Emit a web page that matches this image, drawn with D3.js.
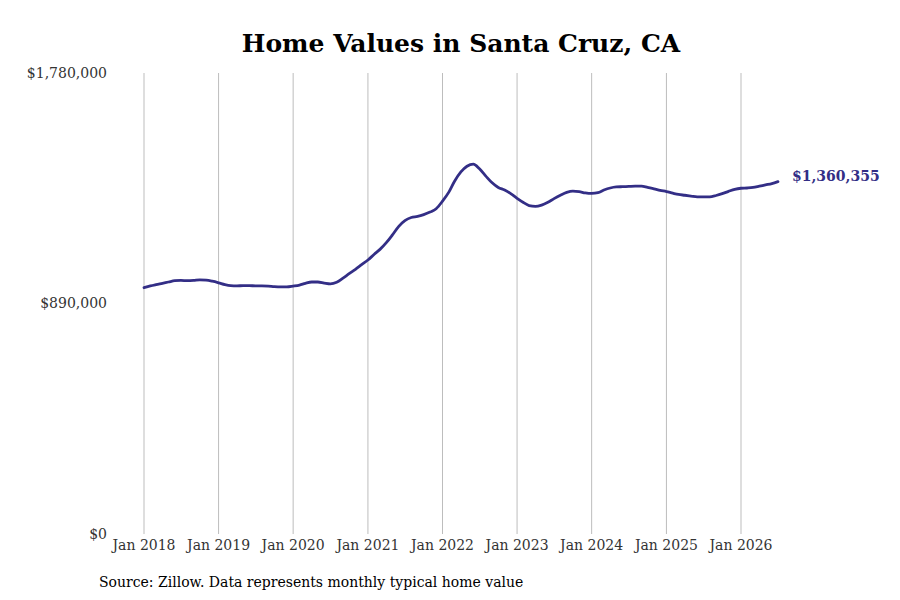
<!DOCTYPE html>
<html>
<head>
<meta charset="utf-8">
<script src="https://cdn.jsdelivr.net/npm/d3@7"></script>
<style>
  html, body { margin: 0; padding: 0; background: #fff; }
  svg { display: block; }
  text { font-family: "DejaVu Serif", serif; }
</style>
</head>
<body>
<svg id="chart" width="900" height="600"></svg>
<script>
const title = "Home Values in Santa Cruz, CA";
const sourceNote = "Source: Zillow. Data represents monthly typical home value";
const startMonth = "2018-01";
const yTicks = [0, 890000, 1780000];
const xTickYears = [2018, 2019, 2020, 2021, 2022, 2023, 2024, 2025, 2026];
// monthly typical home value, Jan 2018 .. Jul 2026
const values = [
  951000, 958000, 963000, 968000, 973000, 978000, 979000, 978000, 979000, 981000, 980000, 976000,
  970000, 963000, 959000, 958000, 959000, 959000, 958000, 958000, 957000, 955000, 954000, 954000,
  957000, 961000, 968000, 973000, 973000, 969000, 966000, 972000, 988000, 1005000, 1022000, 1040000,
  1058000, 1080000, 1099000, 1125000, 1155000, 1188000, 1210000, 1222000, 1226000, 1233000, 1243000, 1256000,
  1285000, 1320000, 1362000, 1398000, 1420000, 1428000, 1410000, 1382000, 1356000, 1338000, 1328000, 1314000,
  1296000, 1280000, 1268000, 1265000, 1270000, 1281000, 1295000, 1308000, 1319000, 1324000, 1322000, 1317000,
  1315000, 1318000, 1328000, 1336000, 1340000, 1341000, 1342000, 1343000, 1343000, 1338000, 1333000, 1327000,
  1322000, 1316000, 1311000, 1308000, 1305000, 1302000, 1302000, 1302000, 1307000, 1314000, 1323000, 1331000,
  1335000, 1336000, 1338000, 1343000, 1348000, 1353000, 1360355
];

const [sy, sm] = startMonth.split("-").map(Number);
const data = values.map((v, i) => ({ date: new Date(sy, sm - 1 + i, 1), value: v }));

const svg = d3.select("#chart");
const lineColor = "#332e86";

const x = d3.scaleTime()
  .domain([new Date(2018, 0, 1), new Date(2026, 0, 1)])
  .range([144, 741]);
const y = d3.scaleLinear()
  .domain([0, 1780000])
  .range([534, 73]);

// vertical gridlines
svg.append("g")
  .selectAll("line")
  .data(xTickYears)
  .join("line")
  .attr("x1", d => x(new Date(d, 0, 1)))
  .attr("x2", d => x(new Date(d, 0, 1)))
  .attr("y1", y(1780000))
  .attr("y2", y(0))
  .attr("stroke", "#bdbdbd")
  .attr("stroke-width", 1);

// x tick labels
svg.append("g")
  .selectAll("text")
  .data(xTickYears)
  .join("text")
  .attr("x", d => x(new Date(d, 0, 1)))
  .attr("y", 550)
  .attr("text-anchor", "middle")
  .attr("font-size", 14)
  .attr("fill", "#333")
  .text(d => d3.timeFormat("%b %Y")(new Date(d, 0, 1)));

// y tick labels
const fmt = d3.format("$,.0f");
svg.append("g")
  .selectAll("text")
  .data(yTicks)
  .join("text")
  .attr("x", 107)
  .attr("y", d => y(d))
  .attr("dy", "0.35em")
  .attr("text-anchor", "end")
  .attr("font-size", 14)
  .attr("fill", "#333")
  .text(d => fmt(d));

// line
const line = d3.line()
  .x(d => x(d.date))
  .y(d => y(d.value))
  .curve(d3.curveMonotoneX);

svg.append("path")
  .datum(data)
  .attr("fill", "none")
  .attr("stroke", lineColor)
  .attr("stroke-width", 2.8)
  .attr("stroke-linejoin", "round")
  .attr("stroke-linecap", "round")
  .attr("d", line);

// end label
const last = data[data.length - 1];
svg.append("text")
  .attr("x", x(last.date) + 14)
  .attr("y", y(last.value) - 6)
  .attr("dy", "0.35em")
  .attr("font-size", 14)
  .attr("font-weight", "bold")
  .attr("fill", lineColor)
  .text(fmt(last.value));

// title
svg.append("text")
  .attr("x", 461)
  .attr("y", 52)
  .attr("text-anchor", "middle")
  .attr("font-size", 25)
  .attr("font-weight", "bold")
  .attr("fill", "#000")
  .text(title);

// source
svg.append("text")
  .attr("x", 99)
  .attr("y", 587)
  .attr("font-size", 14)
  .attr("fill", "#000")
  .text(sourceNote);
</script>
</body>
</html>
